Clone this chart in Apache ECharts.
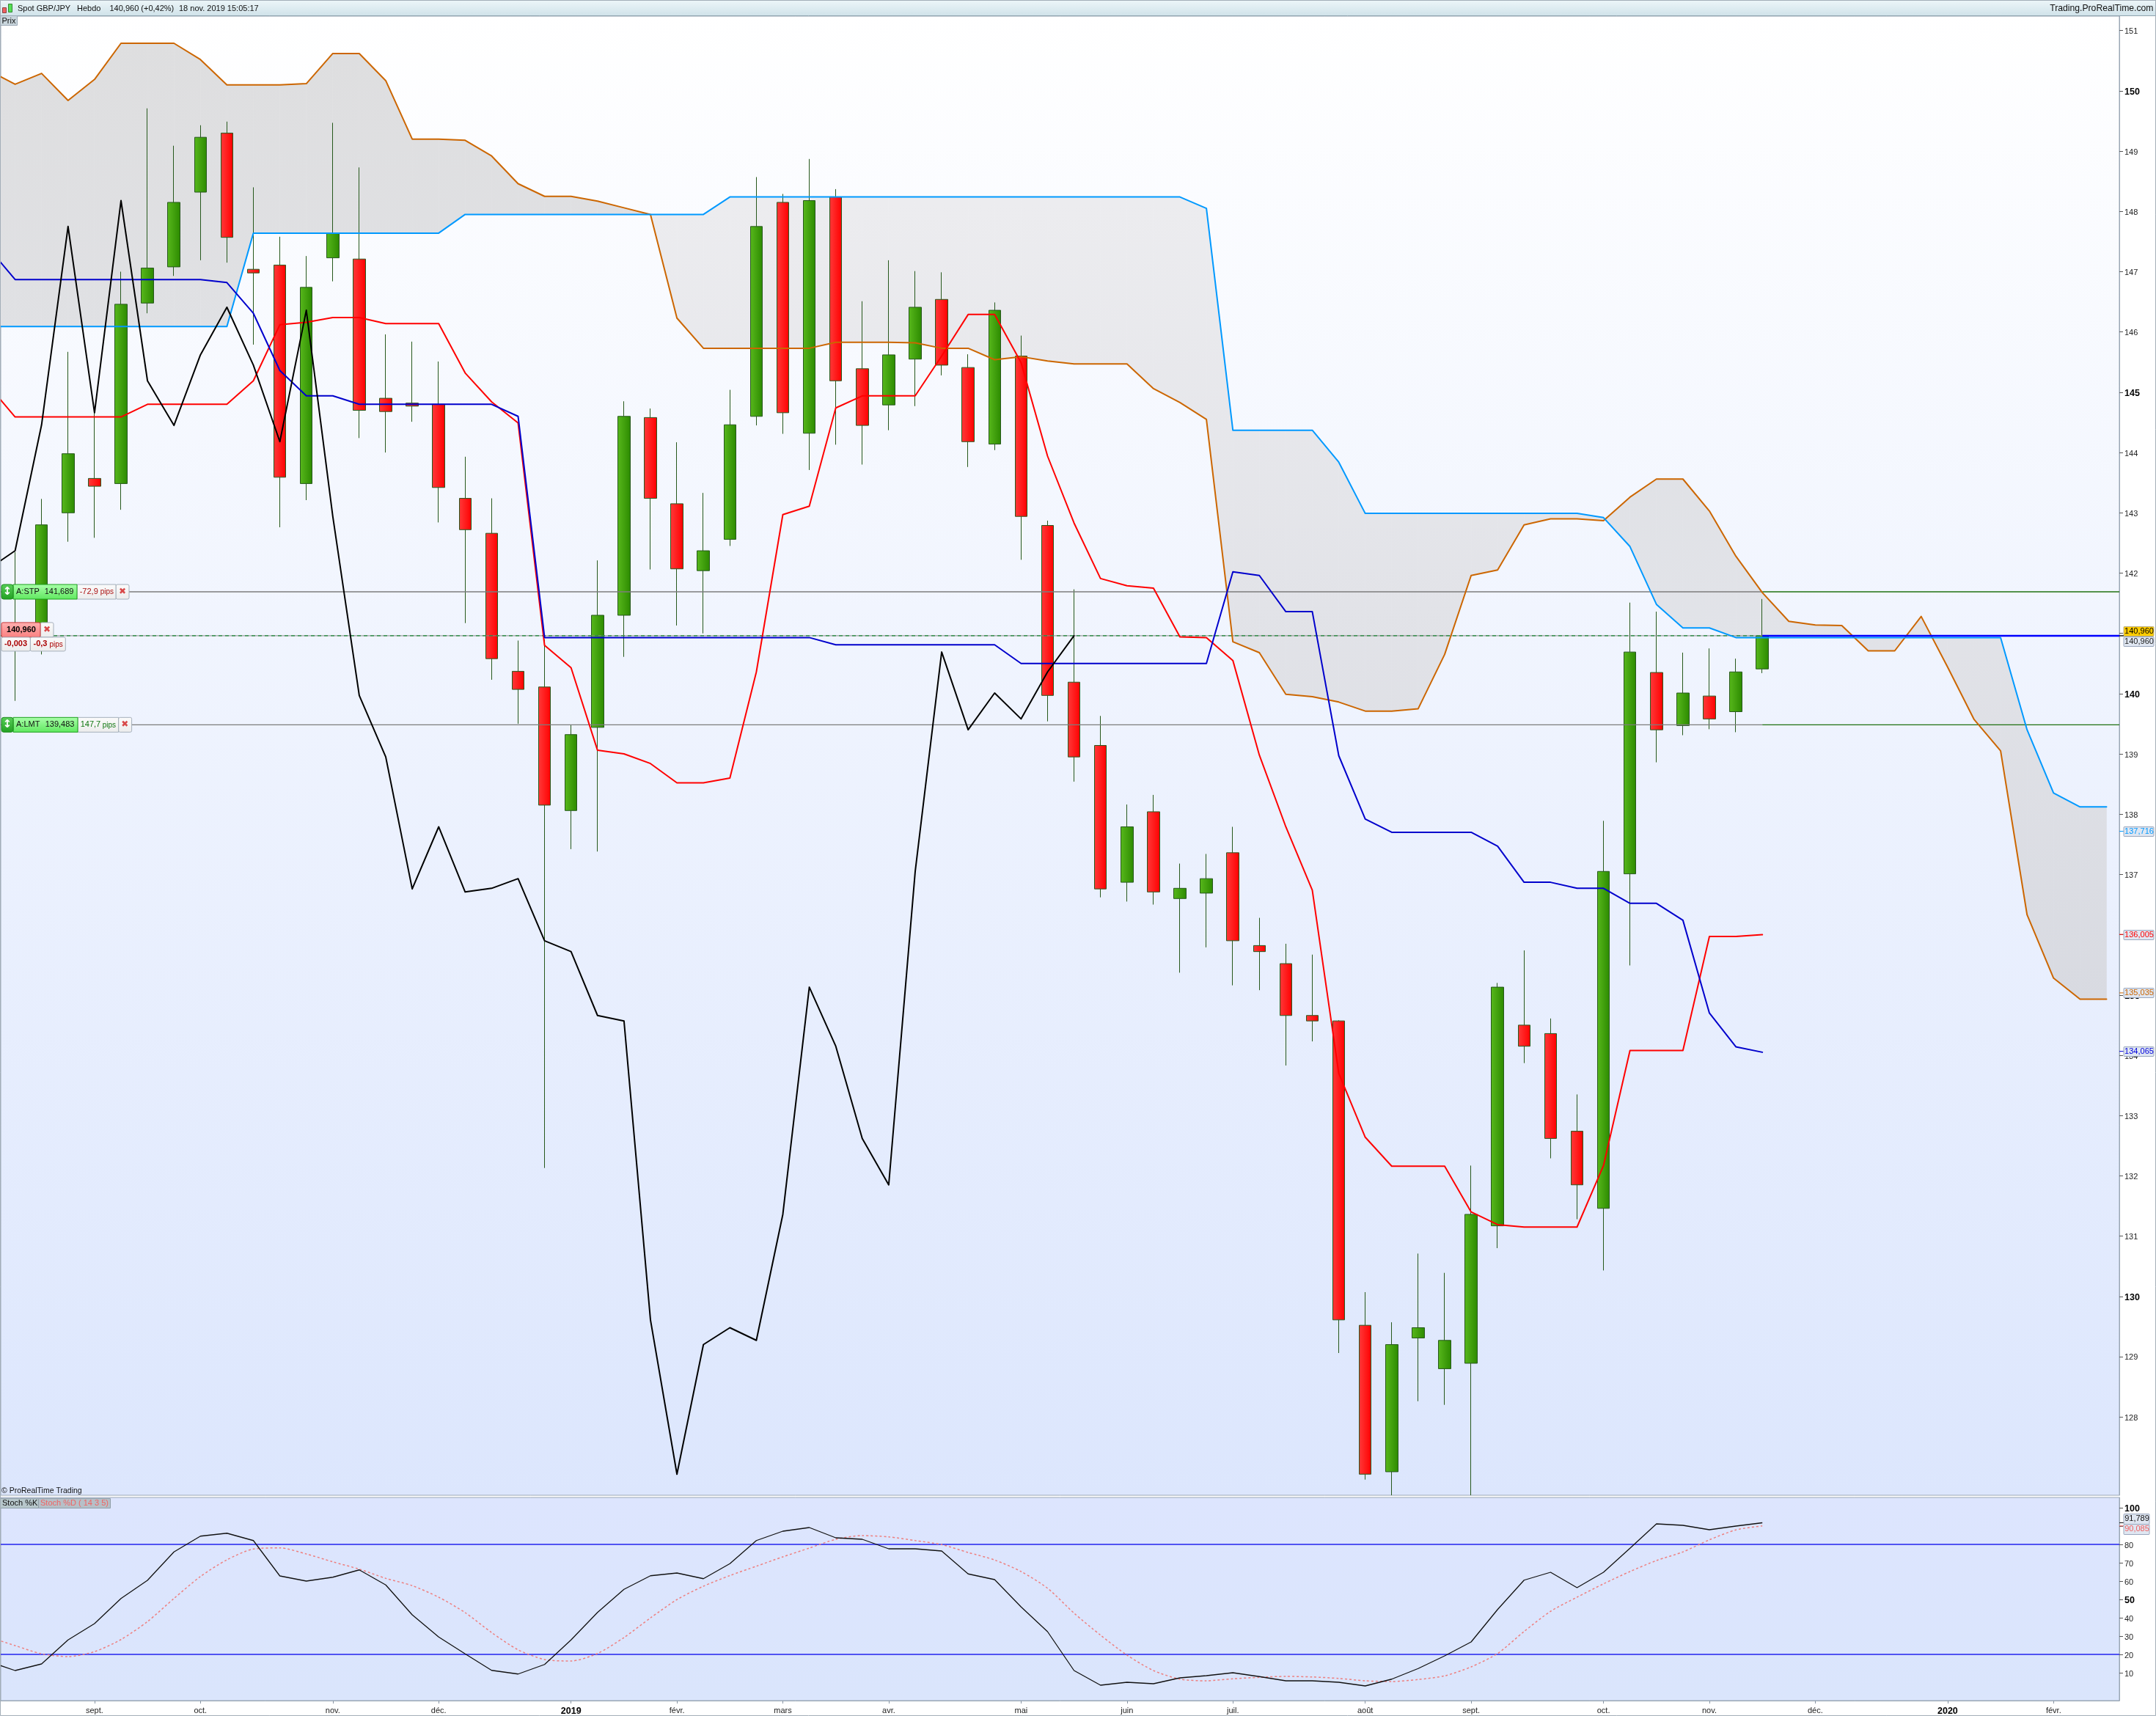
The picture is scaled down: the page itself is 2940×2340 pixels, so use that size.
<!DOCTYPE html>
<html><head><meta charset="utf-8">
<style>html,body{margin:0;padding:0;background:#fff}#c{width:2940px;height:2340px}</style>
<script src="https://cdn.jsdelivr.net/npm/echarts@6/dist/echarts.min.js"></script>
</head><body><div id="c"></div>
<script>
// ---- candle data, bar index 0..66 ----
const opens=[141.05,140.95,143.00,143.57,143.485,146.48,147.08,148.32,149.30,147.04,147.11,143.485,147.23,147.21,144.90,144.82,144.80,143.24,142.66,140.37,140.11,138.06,139.44,141.30,144.58,143.15,142.04,142.56,144.60,148.15,144.32,148.24,145.39,144.79,145.55,146.54,145.41,144.14,145.60,142.79,140.19,139.14,136.87,138.04,136.60,136.69,137.36,135.82,135.52,134.66,134.57,129.52,127.09,129.31,128.80,128.89,131.17,134.50,134.36,132.74,131.46,137.01,140.35,139.47,139.96,139.70,140.41];
const closes=[140.85,142.80,143.98,143.44,146.46,147.06,148.15,149.23,147.57,146.98,143.59,146.74,147.64,144.70,144.68,144.77,143.42,142.72,140.58,140.07,138.15,139.32,141.30,144.60,143.24,142.07,142.37,144.46,147.75,144.66,148.18,145.19,144.45,145.62,146.41,145.45,144.18,146.36,142.94,139.97,138.95,136.76,137.79,136.71,136.77,136.93,135.90,135.72,134.66,134.57,129.61,127.05,129.20,129.48,129.27,131.36,135.13,134.15,132.62,131.85,137.05,140.69,139.40,140.01,139.58,140.36,140.96];
const lows=[139.88,140.65,142.52,142.585,143.05,146.31,146.93,147.19,147.15,145.79,142.76,143.21,146.84,144.24,144.0,144.51,142.84,141.17,140.23,139.50,132.13,137.42,137.38,140.61,142.06,141.13,141.0,142.45,144.45,144.31,143.71,144.13,143.80,144.37,144.77,145.28,143.76,144.04,142.22,139.54,138.54,136.62,136.55,136.50,135.37,135.79,135.16,135.08,133.83,134.23,129.06,126.96,126.70,128.26,128.20,126.70,130.80,133.87,132.29,131.28,130.43,135.49,138.86,139.31,139.41,139.36,140.34];
const highs=[142.35,143.23,145.67,144.66,147.0,149.71,149.09,149.43,149.49,148.40,147.58,147.26,149.47,148.73,145.96,145.84,145.51,143.93,143.24,140.88,140.9,139.48,142.21,144.85,144.73,144.17,143.33,145.04,148.57,148.29,148.87,148.37,146.51,147.19,147.01,146.99,145.63,146.49,145.94,142.87,141.73,139.63,138.16,138.32,137.18,137.34,137.79,136.28,135.85,135.67,134.58,130.07,129.57,130.71,130.39,132.17,135.2,135.74,134.61,133.35,137.89,141.51,141.36,140.68,140.75,140.58,141.57];
// ---- indicators, first value is at bar index -1 ----
const tenkan=[145.11,144.59,144.59,144.59,144.59,144.59,144.80,144.80,144.80,144.80,145.19,146.12,146.16,146.24,146.24,146.14,146.14,146.14,145.32,144.84,144.49,140.80,140.43,139.06,139.0,138.84,138.52,138.52,138.6,140.36,142.97,143.11,144.74,144.94,144.94,144.94,145.6,146.29,146.29,145.49,143.94,142.83,141.91,141.79,141.75,140.94,140.93,140.55,138.98,137.79,136.74,133.70,132.64,132.16,132.16,132.16,131.40,131.19,131.15,131.15,131.15,132.17,134.08,134.08,134.08,135.97,135.97,136.0];
const kijun=[147.39,146.87,146.87,146.87,146.87,146.87,146.87,146.87,146.87,146.82,146.31,145.36,144.94,144.94,144.80,144.80,144.80,144.80,144.80,144.80,144.60,140.93,140.93,140.93,140.93,140.93,140.93,140.93,140.93,140.93,140.93,140.93,140.81,140.81,140.81,140.81,140.81,140.81,140.81,140.50,140.50,140.50,140.50,140.50,140.50,140.50,140.50,142.02,141.96,141.36,141.36,138.97,137.92,137.70,137.70,137.70,137.70,137.47,136.87,136.87,136.77,136.77,136.52,136.52,136.24,134.70,134.14,134.05];
const chikou=[142.07,142.37,144.46,147.75,144.66,148.18,145.19,144.45,145.62,146.41,145.45,144.18,146.36,142.94,139.97,138.95,136.76,137.79,136.71,136.77,136.93,135.90,135.72,134.66,134.57,129.61,127.05,129.20,129.48,129.27,131.36,135.13,134.15,132.62,131.85,137.05,140.69,139.40,140.01,139.58,140.36,140.96];
const senkouA=[146.09,146.09,146.09,146.09,146.09,146.09,146.09,146.09,146.09,146.09,147.64,147.64,147.64,147.64,147.64,147.64,147.64,147.64,147.95,147.95,147.95,147.95,147.95,147.95,147.95,147.95,147.95,147.95,148.24,148.24,148.24,148.24,148.24,148.24,148.24,148.24,148.24,148.24,148.24,148.24,148.24,148.24,148.24,148.24,148.24,148.24,148.05,144.37,144.37,144.37,144.37,143.84,142.99,142.99,142.99,142.99,142.99,142.99,142.99,142.99,142.99,142.92,142.44,141.48,141.09,141.09,140.93,140.93,140.93,140.93,140.93,140.93,140.93,140.93,140.93,140.93,140.93,139.40,138.35,138.12,138.12];
const senkouB=[150.34,150.11,150.29,149.84,150.19,150.79,150.79,150.79,150.52,150.10,150.10,150.10,150.12,150.62,150.62,150.17,149.20,149.20,149.18,148.92,148.46,148.25,148.25,148.17,148.06,147.95,146.23,145.73,145.73,145.73,145.73,145.73,145.83,145.83,145.83,145.82,145.73,145.73,145.54,145.59,145.52,145.47,145.47,145.47,145.06,144.83,144.55,140.86,140.68,139.99,139.95,139.86,139.71,139.71,139.75,140.65,141.96,142.05,142.8,142.9,142.9,142.87,143.26,143.56,143.56,143.03,142.28,141.675,141.20,141.14,141.13,140.71,140.71,141.28,140.44,139.57,139.05,136.33,135.28,134.93,134.93];
const stochK=[16.1,11.2,14.8,27.9,36.8,50.5,60.4,75.9,84.5,86.1,82.1,62.8,60,62.1,66.1,57.9,41.6,29.5,20.3,11.3,9.3,14.5,27.9,42.9,55.5,62.9,64.4,61.3,69.5,82.1,87.2,89.2,83.6,82.8,77.6,77.6,76.4,63.9,60.8,45.9,32.4,11.2,3.2,4.8,4,7.2,8.4,10,7.9,5.6,5.6,4.8,2.8,6.5,12.3,19.2,26.8,44.5,60.5,64.8,56.4,64.8,77.9,91.2,90.4,88,90,91.8];
const stochD=[29.5,24.8,20.3,18.8,21.5,28.1,37.9,50.5,62.5,71.6,77.5,78.1,74.8,70.5,66.5,61.5,57.5,51.2,42.8,31.9,22.5,17.2,16.4,20.5,29.2,39.9,49.9,57.2,63.0,68.1,73.2,78,82.8,84.8,84.1,82.1,79.9,75.6,71.5,65.2,56.1,42.5,30.5,19.6,11.2,6.5,5.6,6.7,7.5,8,7.7,6.9,5.6,5.2,6.3,8.3,13.2,20.5,32.5,43.5,51.2,58.5,65.2,71.2,75.9,82.5,87.9,90.1];
// ---- axes ----
const monthTicks=[3,7,12,16,21,25,29,33,38,42,46,51,55,60,64,68,73,77];
const monthLabels=['sept.','oct.','nov.','déc.','2019','févr.','mars','avr.','mai','juin','juil.','août','sept.','oct.','nov.','déc.','2020','févr.'];
const priceTicks=[128,129,130,131,132,133,134,135,136,137,138,139,140,141,142,143,144,145,146,147,148,149,150,151];
const stochTicks=[10,20,30,40,50,60,70,80,90,100];
const stochLevels=[80,20];
const lastIndex=66;
const lastPrice=140.96;
const orderNames=['A:STP','A:LMT'];
const orderPrices=[141.689,139.483];
const orderPriceTexts=['141,689','139,483'];
const orderPips=['-72,9','147,7'];
const priceTags=[[140.96,'140,960','#000','#ffcc00','#b9b08a',-6,13,41],[140.96,'140,960','#222','#dfe6f1','#9aa7bd',8,13,41],[137.716,'137,716','#0099ff','#dfe6f1','#9aa7bd',0,13,41],[136.005,'136,005','#ff0000','#dfe6f1','#9aa7bd',0,13,41],[135.035,'135,035','#cc6600','#dfe6f1','#9aa7bd',0,13,41],[134.065,'134,065','#0000dd','#dfe6f1','#9aa7bd',0,13,41]];
const stochTags=[[91.789,'91,789','#111','#dfe6f1','#9aa7bd',-6,14,35],[90.085,'90,085','#f06060','#dfe6f1','#9aa7bd',4,14,35]];

const FONT='"Liberation Sans"';
const xMin=-0.543, xMax=79.485;
const G=echarts.graphic.LinearGradient;
const pts=a=>a.map((v,k)=>[k-1,v]);
const candleData=opens.map((o,i)=>[i,o,closes[i],lows[i],highs[i]]);
const cloudData=senkouA.slice(0,-1).map((a,k)=>[k-1,a,senkouB[k],senkouA[k+1],senkouB[k+1]]);
const fillBUp=new G(0,22,0,1000,[{offset:0,color:'#dededf'},{offset:1,color:'#e2e4ea'}],true);
const fillAUp=new G(0,280,0,1370,[{offset:0,color:'#ececef'},{offset:1,color:'#d8dae1'}],true);

function cloudItem(params,api){
  const i=api.value(0),a0=api.value(1),b0=api.value(2),a1=api.value(3),b1=api.value(4);
  const c=(x,y)=>api.coord([x,y]);
  const poly=(p,up)=>({type:'polygon',shape:{points:p},style:{fill:up?fillBUp:fillAUp,stroke:up?fillBUp:fillAUp,lineWidth:0.6}});
  const d0=b0-a0,d1=b1-a1,ch=[];
  if(d0*d1<0){
    const t=d0/(d0-d1),xm=i+t,ym=a0+(a1-a0)*t;
    ch.push(poly([c(i,a0),c(xm,ym),c(i,b0)],d0>0));
    ch.push(poly([c(xm,ym),c(i+1,a1),c(i+1,b1)],d1>0));
  }else ch.push(poly([c(i,a0),c(i+1,a1),c(i+1,b1),c(i,b0)],d0+d1>0));
  return {type:'group',children:ch};
}
const rect=(x,y,w,h,fill,stroke,r)=>({type:'rect',shape:{x,y,width:w,height:h,r:r||0},style:{fill,stroke:stroke||null,lineWidth:1}});
const txt=(t,x,y,fill,font,align)=>({type:'text',style:{text:t,x,y,fill,font:font||('11px '+FONT),textAlign:align||'left',textVerticalAlign:'middle'}});
const greyBox=new G(0,0,0,1,[{offset:0,color:'#fbfbfb'},{offset:1,color:'#ececec'}]);
const greenBox=new G(0,0,0,1,[{offset:0,color:'#aaffaa'},{offset:1,color:'#5fe85f'}]);
const redBox=new G(0,0,0,1,[{offset:0,color:'#ffb0b0'},{offset:1,color:'#f98080'}]);
const arrowBox=new G(0,0,0,1,[{offset:0,color:'#58cf58'},{offset:1,color:'#22a022'}]);

function orderItem(params,api){
  const n=params.dataIndex,y=api.coord([0,api.value(0)])[1];
  const a=n===0?[105,158,176,108.7,136.7,167,60.7]:[106,161.6,179.6,109.7,139.7,170.4,61.7];
  const col=n===0?'#aa1111':'#117711';
  return {type:'group',children:[
    rect(a[1],y-10,a[2]-a[1],20,greyBox,'#a5b0bb',2),
    rect(a[0],y-10,a[1]-a[0],20,greyBox,'#a5b0bb',0),
    rect(18,y-10,a[0]-18,20,greenBox,'#1ca01c',0),
    rect(2,y-10,16,20,arrowBox,'#1c8c1c',3),
    txt('↕',10,y,'#ffffff','bold 15px "DejaVu Sans"','center'),
    txt(orderNames[n],22,y,'#111'),
    txt(orderPriceTexts[n],a[6],y,'#111'),
    txt(orderPips[n],a[3],y,col),
    txt('pips',a[4],y+0.5,col,'10px '+FONT),
    txt('✖',a[5],y,'#d84848','12px "DejaVu Sans"','center')
  ]};
}
function lastItem(params,api){
  const y=api.coord([0,api.value(0)])[1];
  return {type:'group',children:[
    rect(55,y-18,18,20,greyBox,'#a5b0bb',2),
    rect(2,y-18,53,20,redBox,'#c83838',2),
    txt('140,960',29,y-8,'#000','bold 11px '+FONT,'center'),
    txt('✖',64,y-8,'#d84848','12px "DejaVu Sans"','center'),
    rect(41.3,y+2,48,19,greyBox,'#a5b0bb',2),
    rect(2,y+2,39.3,19,greyBox,'#a5b0bb',2),
    txt('-0,003',21.5,y+11.5,'#aa0000','bold 11px '+FONT,'center'),
    txt('-0,3',45.5,y+11.5,'#aa0000','bold 11px '+FONT),
    txt('pips',67.5,y+12,'#aa0000','10px '+FONT)
  ]};
}
function tagItem(tags){return function(params,api){
  const t=tags[params.dataIndex],y=api.coord([0,api.value(0)])[1],yc=y+t[5];
  return {type:'group',children:[
    {type:'line',shape:{x1:2890,y1:y,x2:2896,y2:y},style:{stroke:t[2],lineWidth:1}},
    rect(2896,Math.round(yc-t[6]/2)+.5,t[7],t[6],t[3],t[4],1),
    txt(t[1],2896+t[7]/2+.5,yc+.5,t[2],'11px '+FONT,'center')
  ]};
};}
const lineS=(name,data,color,width,extra)=>Object.assign({name,type:'line',xAxisIndex:0,yAxisIndex:0,data,showSymbol:false,symbol:'none',silent:true,clip:true,lineStyle:{color,width,cap:'round',join:'round'}},extra||{});
const hl=(name,p,x0,x1,color,width,type,gi)=>({name,type:'line',xAxisIndex:gi||0,yAxisIndex:gi||0,showSymbol:false,symbol:'none',silent:true,data:[[x0,p],[x1,p]],lineStyle:{color,width,type:type||'solid'}});

const series=[
 {type:'custom',name:'cloud',xAxisIndex:0,yAxisIndex:0,clip:true,silent:true,data:cloudData,encode:{x:0,y:[1,2,3,4]},renderItem:cloudItem},
 {type:'candlestick',name:'GBP/JPY',xAxisIndex:0,yAxisIndex:0,barWidth:17,silent:true,clip:true,data:candleData,encode:{x:0,y:[1,2,3,4]},
  itemStyle:{color:new G(0,0,1,0,[{offset:0,color:'#58b81c'},{offset:1,color:'#2c8a00'}]),color0:new G(0,0,1,0,[{offset:0,color:'#ff3a3a'},{offset:1,color:'#ff0000'}]),borderColor:'#27591d',borderColor0:'#27591d',borderWidth:1}},
 hl('stp-l',orderPrices[0],xMin,lastIndex,'#7c7c7c',1.4),
 hl('stp-r',orderPrices[0],lastIndex,xMax,'#1f7010',1.4),
 hl('lmt-l',orderPrices[1],xMin,lastIndex,'#7c7c7c',1.4),
 hl('lmt-r',orderPrices[1],lastIndex,xMax,'#1f7010',1.4),
 hl('last-g',lastPrice,xMin,lastIndex,'#8a8a8a',1),
 hl('last-d',lastPrice,xMin,lastIndex,'#1f8a3a',1.2,[5,4]),
 lineS('Senkou B',pts(senkouB),'#cc6600',2),
 lineS('Senkou A',pts(senkouA),'#0099ff',2),
 lineS('Tenkan',pts(tenkan),'#ff0000',2),
 lineS('Kijun',pts(kijun),'#0000cc',2),
 lineS('Chikou',pts(chikou),'#000000',2),
 hl('last-b',lastPrice,lastIndex,xMax,'#0000ff',2.6),
 {type:'custom',name:'orders',xAxisIndex:0,yAxisIndex:0,z:40,silent:true,clip:false,data:orderPrices.map(v=>[v]),encode:{y:0},renderItem:orderItem},
 {type:'custom',name:'last',xAxisIndex:0,yAxisIndex:0,z:41,silent:true,clip:false,data:[[lastPrice]],encode:{y:0},renderItem:lastItem},
 {type:'custom',name:'ptags',xAxisIndex:0,yAxisIndex:0,z:42,silent:true,clip:false,data:priceTags.map(t=>[t[0]]),encode:{y:0},renderItem:tagItem(priceTags)},
 hl('s80',stochLevels[0],xMin,xMax,'#2222ee',1.5,null,1),
 hl('s20',stochLevels[1],xMin,xMax,'#2222ee',1.5,null,1),
 {name:'Stoch %D',type:'line',xAxisIndex:1,yAxisIndex:1,data:pts(stochD),symbol:'none',showSymbol:false,silent:true,smooth:0.25,lineStyle:{color:'#ee8080',width:1.5,type:[3,3]}},
 {name:'Stoch %K',type:'line',xAxisIndex:1,yAxisIndex:1,data:pts(stochK),symbol:'none',showSymbol:false,silent:true,lineStyle:{color:'#111',width:1.3}},
 {type:'custom',name:'stags',xAxisIndex:1,yAxisIndex:1,z:42,silent:true,clip:false,data:stochTags.map(t=>[t[0]]),encode:{y:0},renderItem:tagItem(stochTags)}
];
const axisGrey='#9aa7b5';
const richY={n:{fontSize:11,color:'#222',fontFamily:FONT,padding:[3,0,0,0]},b:{fontSize:12.5,fontWeight:'bold',color:'#000',fontFamily:FONT,padding:[3,0,0,0]}};
const gTxt=(t,x,y,fill,font,align)=>({type:'text',silent:true,z:60,style:{text:t,x,y,fill:fill||'#111',font:font||('11px '+FONT),textAlign:align||'left',textVerticalAlign:'middle'}});
const gRect=(x,y,w,h,fill,stroke)=>({type:'rect',silent:true,z:59,shape:{x,y,width:w,height:h},style:{fill,stroke:stroke||null,lineWidth:1}});

const option={
 animation:false,backgroundColor:'#ffffff',
 grid:[
  {left:1,width:2889,top:22,height:2017,show:true,borderColor:axisGrey,borderWidth:1,backgroundColor:new G(0,0,0,1,[{offset:0,color:'#ffffff'},{offset:1,color:'#dce6fd'}])},
  {left:1,width:2889,top:2042,height:277,show:true,borderColor:axisGrey,borderWidth:1,backgroundColor:new G(0,0,0,1,[{offset:0,color:'#dde5fe'},{offset:1,color:'#dae5fc'}])}
 ],
 xAxis:[
  {type:'value',gridIndex:0,min:xMin,max:xMax,axisLine:{show:false},axisTick:{show:false},axisLabel:{show:false},splitLine:{show:false}},
  {type:'value',gridIndex:1,min:xMin,max:xMax,position:'bottom',splitLine:{show:false},
   axisLine:{show:true,onZero:false,lineStyle:{color:axisGrey}},
   axisTick:{show:true,length:4,customValues:monthTicks,lineStyle:{color:'#8a97a5'}},
   axisLabel:{show:true,margin:8,customValues:monthTicks,hideOverlap:false,showMinLabel:true,showMaxLabel:true,
     formatter:v=>{const l=monthLabels[monthTicks.indexOf(v)];return /^\d/.test(l)?'{y|'+l+'}':'{m|'+l+'}';},
     rich:{m:{fontSize:11,color:'#222',fontFamily:FONT},y:{fontSize:12.5,fontWeight:'bold',color:'#000',fontFamily:FONT}}}}
 ],
 yAxis:[
  {type:'value',gridIndex:0,position:'right',min:126.70,max:151.24,splitLine:{show:false},
   axisLine:{show:true,onZero:false,lineStyle:{color:axisGrey}},
   axisTick:{show:true,length:5,customValues:priceTicks,lineStyle:{color:'#555'}},
   axisLabel:{show:true,margin:7,customValues:priceTicks,formatter:v=>v%5===0?'{b|'+v+'}':'{n|'+v+'}',rich:richY}},
  {type:'value',gridIndex:1,position:'right',min:-5.2,max:105.6,splitLine:{show:false},
   axisLine:{show:true,onZero:false,lineStyle:{color:axisGrey}},
   axisTick:{show:true,length:5,customValues:stochTicks,lineStyle:{color:'#555'}},
   axisLabel:{show:true,margin:7,customValues:stochTicks,formatter:v=>v%50===0?'{b|'+v+'}':'{n|'+v+'}',rich:richY}}
 ],
 graphic:{elements:[
  gRect(0.5,0.5,2939,21,new G(0,0,0,1,[{offset:0,color:'#edf6f9'},{offset:1,color:'#cfe2e9'}]),'#8fa3ad'),
  gRect(3.5,10.5,5,7,'#f06060','#884444'),
  gRect(11.5,5.5,5,11,'#55e055','#338833'),
  gTxt('Spot GBP/JPY',24,11.5),gTxt('Hebdo',105,11.5),gTxt('140,960 (+0,42%)',149.5,11.5),gTxt('18 nov. 2019 15:05:17',244,11.5),
  gTxt('Trading.ProRealTime.com',2936.5,11.5,'#111','12.2px '+FONT,'right'),
  gRect(0.5,21.5,23,13,'#c9d6dd','#9aa7b5'),gTxt('Prix',2.5,28.5,'#111'),
  gTxt('© ProRealTime Trading',2,2033,'#111','10.5px '+FONT),
  gRect(0.5,2043.5,52,13,'#b7c7cb','#8f9fa8'),gTxt('Stoch %K',3,2050),
  gRect(52.5,2043.5,98,13,'#b6c0c8','#8f9fa8'),gTxt('Stoch %D ( 14 3 5)',55,2050,'#f06464'),
  gRect(0.5,0.5,2939,2339,null,'#a3aeb8')
 ]},
 series
};
const chart=echarts.init(document.getElementById('c'),null,{renderer:'canvas',width:2940,height:2340});
chart.setOption(option);
</script></body></html>
